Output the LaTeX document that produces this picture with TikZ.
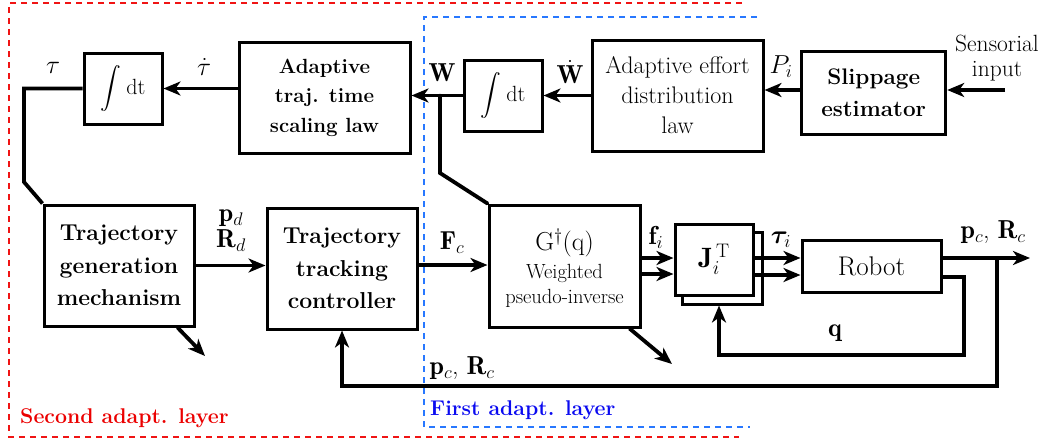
\RequirePackage{fix-cm}
\documentclass[tikz,border=0pt]{standalone}
\usepackage{amsmath,bm}
\usepackage{fontspec}
\usetikzlibrary{arrows.meta}
\definecolor{dred}{RGB}{240,20,20}
\definecolor{dblue}{RGB}{40,120,255}
\definecolor{tred}{RGB}{235,0,0}
\definecolor{tblue}{RGB}{10,10,240}
\begin{document}
\begin{tikzpicture}[x=1pt,y=-1pt,
  blk/.style={draw, line width=3pt, fill=white, inner sep=0pt, align=center},
  conn/.style={line width=3.8pt, -{Stealth[length=17pt,width=14pt,inset=5pt]}},
  wire/.style={line width=3.8pt},
  lbl/.style={inner sep=0pt, font=\fontsize{26}{26}\selectfont},
  reddash/.style={draw=dred, line width=1.5pt, dash pattern=on 6pt off 5pt},
  bluedash/.style={draw=dblue, line width=1.5pt, dash pattern=on 6pt off 5pt},
  intg/.style={font=\fontsize{22}{24}\selectfont},
  layerlbl/.style={font=\fontsize{21.3}{23}\selectfont\bfseries, anchor=west, inner sep=0pt}
]
\useasboundingbox (0,0) rectangle (1051,442);

% layer frames
\draw[reddash] (742,3) -- (9,3) -- (9,437) -- (739,437);
\draw[bluedash] (757,17) -- (424,17) -- (424,427) -- (750,427);
\node[layerlbl, text=tred] (L2) at (20,418) {Second adapt. layer};
\node[layerlbl, text=tblue] (L1) at (430,410) {First adapt. layer};

% top row
\node[blk, intg, minimum width=78pt, minimum height=71pt] (int1) at (123,88.5) {$\displaystyle\int$\hspace{5pt}dt};
\node[blk, font=\fontsize{20.5}{29.5}\selectfont\bfseries, minimum width=171pt, minimum height=111pt] (traj) at (324.5,97.5) {Adaptive\\traj. time\\scaling law};
\node[blk, intg, minimum width=78pt, minimum height=71pt] (int2) at (503,95.5) {$\displaystyle\int$\hspace{5pt}dt};
\node[blk, font=\fontsize{24}{30}\selectfont, minimum width=171pt, minimum height=111pt] (eff) at (677.5,95.5) {Adaptive effort\\distribution\\law};
\node[blk, font=\fontsize{22.5}{32}\selectfont\bfseries, minimum width=144pt, minimum height=83pt] (slip) at (873.7,92.5) {Slippage\\estimator};
\node[inner sep=0pt, align=center, font=\fontsize{23.5}{25}\selectfont] (sens) at (997,58) {Sensorial\\input};

% bottom row
\node[blk, font=\fontsize{23}{32.5}\selectfont\bfseries, minimum width=150pt, minimum height=121pt] (gen) at (119,265.5) {Trajectory\\generation\\mechanism};
\node[blk, font=\fontsize{23}{32.5}\selectfont\bfseries, minimum width=150pt, minimum height=121pt] (track) at (342,268.5) {Trajectory\\tracking\\controller};
\node[blk, minimum width=151pt, minimum height=122pt] (G) at (564.5,266) {};
\node[inner sep=0pt, font=\fontsize{26}{28}\selectfont] (Gt) at (564.5,243) {G$^{\dagger}$(q)};
\node[inner sep=0pt, align=center, font=\fontsize{20.5}{25}\selectfont] (Gw) at (564.5,286) {Weighted\\pseudo-inverse};
\node[blk, minimum width=80pt, minimum height=72pt] (Jback) at (722,268) {};
\node[blk, minimum width=78pt, minimum height=71pt, font=\fontsize{28}{30}\selectfont] (J) at (714,259.5) {$\mathbf{J}_i^{\,\mathrm{T}}$};
\node[blk, minimum width=139pt, minimum height=52pt, font=\fontsize{27}{30}\selectfont] (robot) at (871.5,266) {Robot};

% coordinates
\coordinate (tl) at (24,182);
\coordinate (wb) at (440,95.5);
\coordinate (wd) at (440,173);
\coordinate (sin) at (1005,90);
\coordinate (out) at (1030,258);
\coordinate (br) at (997,258);
\coordinate (fbc) at (997,386);
\coordinate (qc) at (964,355);
\coordinate (gend) at (205,356);
\coordinate (Gend) at (672,364);

% top connectors
\draw[wire] (int1.west) -| (tl) -- (gen.north west);
\draw[conn] (int1.east -| traj.west) -- (int1.east);
\draw[conn] (int2.west) -- (int2.west -| traj.east);
\draw[wire, line cap=round] (wb) -- (wd) -- (G.north west);
\draw[conn] (eff.west) -- (eff.west -| int2.east);
\draw[conn] (slip.west |- 0,90) -- (eff.east |- 0,90);
\draw[conn] (sin) -- (sin -| slip.east);

% bottom connectors
\draw[conn] (gen.east) -- (gen.east -| track.west);
\draw[conn] (track.east |- 0,265) -- (G.west |- 0,265);
\draw[conn] ([yshift=8pt]G.east) -- ([yshift=8pt]G.east -| J.west);
\draw[conn] ([yshift=-8pt]G.east) -- ([yshift=-8pt]G.east -| J.west);
\draw[conn] ([yshift=1.5pt]J.east) -- ([yshift=1.5pt]J.east -| robot.west);
\draw[conn] ([yshift=-15.5pt]J.east) -- ([yshift=-15.5pt]J.east -| robot.west);
\draw[conn] ([yshift=8pt]robot.east) -- (out);
\draw[conn] (br) -- (fbc) -| (track.south);
\draw[conn] ([yshift=-11pt]robot.east) -| (qc) -| ([xshift=-3pt]Jback.south);
\draw[conn] ([xshift=-18pt]gen.south east) -- (gend);
\draw[conn] ([xshift=-12pt]G.south east) -- (Gend);

% labels
\node[lbl] (ltau) at (53,68) {$\tau$};
\node[lbl] (ltaud) at (204,67) {$\dot{\tau}$};
\node[lbl] (lW) at (442,73) {$\mathbf{W}$};
\node[lbl] (lWd) at (570,72) {$\dot{\mathbf{W}}$};
\node[lbl] (lP) at (781,67) {$P_i$};
\node[lbl, align=center] (lpd) at (231,231) {$\mathbf{p}_d$\\[0pt]$\mathbf{R}_d$};
\node[lbl] (lF) at (452,243) {$\mathbf{F}_c$};
\node[lbl] (lf) at (656,237) {$\mathbf{f}_i$};
\node[lbl] (lti) at (781,240) {$\bm{\tau}_i$};
\node[lbl] (lpc) at (993,232) {$\mathbf{p}_c$, $\mathbf{R}_c$};
\node[lbl] (lq) at (835,333) {$\mathbf{q}$};
\node[lbl] (lpc2) at (462,368) {$\mathbf{p}_c$, $\mathbf{R}_c$};
\end{tikzpicture}
\end{document}
